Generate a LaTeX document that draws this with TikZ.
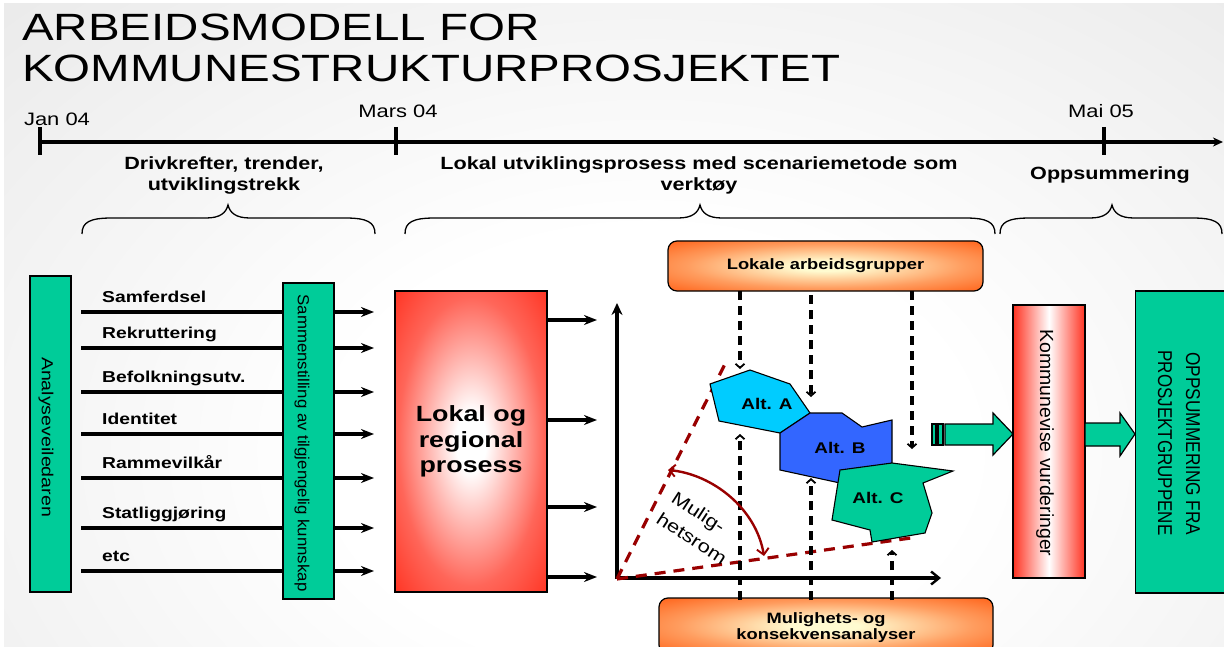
\documentclass[tikz,border=0pt]{standalone}
\usepackage{fontspec}
\setmainfont{Liberation Sans}[FakeStretch=1.22]
\newfontfamily\rotfont{Liberation Sans}
\newfontfamily\titlefont{Liberation Sans}[FakeStretch=1.25]
\usepackage{graphicx}
\usetikzlibrary{arrows.meta,calc}
\definecolor{bggray}{HTML}{DCDCDC}
\definecolor{tealc}{HTML}{00CC99}
\definecolor{boxred}{HTML}{FF3322}
\definecolor{orng}{HTML}{FF6A22}
\definecolor{pale}{HTML}{FFFBD0}
\definecolor{cyanA}{HTML}{00CCFF}
\definecolor{blueB}{HTML}{3366FF}
\definecolor{dred}{HTML}{990000}
\pgfdeclareradialshading{bgshade}{\pgfpoint{0bp}{0bp}}{color(0bp)=(white); color(10bp)=(white); color(42bp)=(bggray); color(50bp)=(bggray)}
\pgfdeclareradialshading{redshade}{\pgfpoint{0bp}{0bp}}{color(0bp)=(white); color(5bp)=(white); color(24bp)=(boxred!75!white); color(36bp)=(boxred); color(50bp)=(boxred)}
\pgfdeclareradialshading{orshade}{\pgfpoint{0bp}{0bp}}{color(0bp)=(pale); color(5bp)=(pale); color(22bp)=(orng!65!pale); color(34bp)=(orng); color(50bp)=(orng)}
\newcommand\rtxt[3]{\resizebox{#1pt}{\height}{\fontsize{#2}{#2}\rotfont #3}}
\newcommand\mybrace[3]{\draw[bracestyle] (#1,234) .. controls (#1,222) and (#1+8,218) .. (#1+30,218) -- (#2-22,218) .. controls (#2-8,218) and (#2-2,213) .. (#2,205) .. controls (#2+2,213) and (#2+8,218) .. (#2+22,218) -- (#3-30,218) .. controls (#3-8,218) and (#3,222) .. (#3,234);}
\begin{document}
\begin{tikzpicture}[x=1pt,y=-1pt,
  tealbox/.style={draw=black, line width=1.3pt, fill=tealc, inner sep=0pt},
  redbox/.style={draw=black, line width=1.3pt, shade, shading=redshade, inner sep=0pt},
  komred/.style={draw=black, line width=1.3pt, left color=boxred, right color=boxred, middle color=white, inner sep=0pt},
  orbox/.style={draw=black, line width=1.2pt, rounded corners=9pt, shade, shading=orshade, inner sep=0pt, font=\bfseries\fontsize{15}{16.5}\selectfont, align=center},
  harrow/.style={line width=3.3pt, -{Stealth[length=13pt,width=10pt]}},
  lab/.style={anchor=base west, font=\bfseries\fontsize{15.8}{18}\selectfont},
  darr/.style={line width=3.1pt, dash pattern=on 9pt off 6pt, -{Straight Barb[length=4pt,width=9pt,line width=1.8pt]}},
  reddash/.style={dred, line width=3.2pt, dash pattern=on 11pt off 8pt},
  poly/.style={draw=black, line width=1.1pt},
  alt/.style={font=\bfseries\fontsize{15.5}{18}\selectfont},
  sect/.style={anchor=base, font=\bfseries\fontsize{17.7}{21}\selectfont},
  tl/.style={anchor=base, font=\fontsize{18}{20}\selectfont},
  bracestyle/.style={line width=1.3pt},
  garrow/.style={draw=black, line width=1.2pt, fill=tealc},
  axis/.style={line width=3.8pt}
]
\useasboundingbox (0,0) rectangle (1224,647);
% background
\fill[bggray] (4,4) rectangle (1224,647);
\begin{scope}
\clip (4,4) rectangle (1224,647);
\shade[shading=bgshade] (-150,-100) rectangle (1450,1000);
\end{scope}

% title
\node[anchor=base west, inner sep=0pt, font=\titlefont\fontsize{38}{41}\selectfont] (t1) at (22,41) {ARBEIDSMODELL FOR};
\node[anchor=base west, inner sep=0pt, font=\titlefont\fontsize{38}{41}\selectfont] (t2) at (22,82) {KOMMUNESTRUKTURPROSJEKTET};

% timeline
\coordinate (tls) at (40,142);
\coordinate (tle) at (1223,142);
\draw[line width=3.6pt, -{Stealth[length=10pt,width=9pt]}] (tls) -- (tle);
\foreach \x/\nm in {40/ta,396/tb,1104/tc} {
  \coordinate (\nm1) at (\x,127);
  \coordinate (\nm2) at (\x,155);
  \draw[line width=3.6pt] (\nm1) -- (\nm2);
}
\node[tl] (jan) at (57,126) {Jan 04};
\node[tl] (mars) at (398,118) {Mars 04};
\node[tl] (mai) at (1101,118) {Mai 05};

% section labels
\node[sect] (s1a) at (224,170) {Drivkrefter, trender,};
\node[sect] (s1b) at (224,191) {utviklingstrekk};
\node[sect] (s2a) at (699,170) {Lokal utviklingsprosess med scenariemetode som};
\node[sect] (s2b) at (699,191) {verktøy};
\node[sect] (s3) at (1110,180) {Oppsummering};

% braces
\mybrace{82}{228}{375}
\mybrace{405}{700}{995}
\mybrace{1000}{1112}{1222}

% left box
\node[tealbox, minimum width=41pt, minimum height=316pt] (ana) at (50.5,434) {};
\node[rotate=-90, inner sep=0pt] (anaT) at (46,437) {\rtxt{160}{16}{Analyseveiledaren}};

% factor lines
\foreach \y/\t/\n in {312/Samferdsel/1,348/Rekruttering/2,392/Befolkningsutv./3,434/Identitet/4,478/Rammevilkår/5,528/Statliggjøring/6,571/etc/7} {
  \coordinate (fs\n) at (81,\y);
  \coordinate (fe\n) at (374,\y);
  \draw[harrow] (fs\n) -- (fe\n);
  \node[lab, inner sep=0pt] (fl\n) at (102,\y-10) {\t};
}

% Sammenstilling box
\node[tealbox, minimum width=51pt, minimum height=316pt] (sam) at (308.5,441) {};
\node[rotate=-90, inner sep=0pt] (samT) at (302,443) {\rtxt{297}{16}{Sammenstilling av tilgjengelig kunnskap}};

% Lokal og regional prosess
\node[redbox, minimum width=152pt, minimum height=301pt, align=center, font=\bfseries\fontsize{22}{25.5}\selectfont] (lok) at (471,441.5) {Lokal og\\regional\\prosess};
\foreach \y/\n in {320/1,420/2,507/3,577/4} {
  \coordinate (la\n) at (lok.east |- 0,\y);
  \coordinate (lb\n) at (597,\y);
  \draw[harrow] (la\n) -- (lb\n);
}

% axes
\coordinate (origin) at (617,579);
\coordinate (ytop) at (617,303);
\coordinate (xend) at (941,578);
\draw[axis, -{Stealth[length=12pt,width=11pt]}] (origin) -- (ytop);
\draw[axis, -{Straight Barb[length=8pt,width=13pt,line width=2.4pt]}] (617,578) -- (xend);

% red dashed lines
\coordinate (rd1) at (726,362);
\coordinate (rd2) at (918,537);
\draw[reddash] (origin) -- (rd1);
\draw[reddash] (origin) -- (rd2);

% boxes top and bottom
\node[orbox, minimum width=315pt, minimum height=50pt] (lag) at (825.5,266) {Lokale arbeidsgrupper};
\node[orbox, minimum width=334pt, minimum height=56pt, text depth=0pt] (mka) at (826,626) {Mulighets- og\\konsekvensanalyser};

% dashed arrows
\coordinate (d1s) at (740,291); \coordinate (d1e) at (740,369);
\coordinate (d2s) at (811,295); \coordinate (d2e) at (811,397);
\coordinate (d3s) at (912,291); \coordinate (d3e) at (912,449);
\draw[darr] (d1s) -- (d1e);
\draw[darr] (d2s) -- (d2e);
\draw[darr] (d3s) -- (d3e);
\coordinate (u1s) at (740,600); \coordinate (u1e) at (740,434);
\coordinate (u2s) at (811,600); \coordinate (u2e) at (811,478);
\coordinate (u3s) at (892,600); \coordinate (u3e) at (892,550);
\draw[darr] (u1s) -- (u1e);
\draw[darr] (u2s) -- (u2e);
\draw[darr] (u3s) -- (u3e);

% polygons
\draw[poly, fill=cyanA] (710,384) -- (750,370) -- (790,384) -- (810,413) -- (780,433) -- (719,421) -- cycle;
\draw[poly, fill=blueB] (810,413) -- (842,413) -- (862,427) -- (892,420) -- (892,463) -- (840,483) -- (780,470) -- (780,433) -- cycle;
\draw[poly, fill=tealc] (840,470) -- (892,463) -- (953,471) -- (923,483) -- (932,513) -- (925,533) -- (872,542) -- (870,530) -- (832,520) -- cycle;
\node[alt] (altA) at (767,404) {Alt. A};
\node[alt] (altB) at (840,448) {Alt. B};
\node[alt] (altC) at (878,498) {Alt. C};

% arc double arrow
\coordinate (arc1) at (668,470);
\coordinate (arc2) at (764,556);
\draw[dred, line width=2.4pt, {Straight Barb[length=6pt,width=12pt,line width=1.9pt]}-{Straight Barb[length=6pt,width=12pt,line width=1.9pt]}] (arc1) .. controls (712,474) and (756,508) .. (arc2);
\node[rotate=-33, anchor=base west, inner sep=0pt, font=\fontsize{18}{24}\selectfont] (mul1) at (670,501) {Mulig-};
\node[rotate=-33, anchor=base west, inner sep=0pt, font=\fontsize{18}{24}\selectfont] (mul2) at (655,522) {hetsrom};

% green arrow 1 with stripes
\draw[garrow] (932,424) rectangle (936,445);
\draw[garrow] (938,424) rectangle (943,445);
\draw[garrow] (945,424) -- (993,424) -- (993,413) -- (1013,434) -- (993,455) -- (993,445) -- (945,445) -- cycle;

% Kommunevise vurderinger
\node[komred, minimum width=72pt, minimum height=273pt] (kom) at (1049,441.5) {};
\node[rotate=-90, inner sep=0pt] (komT) at (1045,443) {\rtxt{227}{19}{Kommunevise vurderinger}};

% green arrow 2
\draw[garrow] (1085,423) -- (1120,423) -- (1120,413) -- (1135,434) -- (1120,456) -- (1120,446) -- (1085,446) -- cycle;

% Oppsummering box
\node[tealbox, minimum width=100pt, minimum height=302pt, anchor=west] (opp) at (1135,442) {};
\node[rotate=-90, inner sep=0pt] (oppT1) at (1193,444) {\rtxt{183}{20}{OPPSUMMERING FRA}};
\node[rotate=-90, inner sep=0pt] (oppT2) at (1165,443) {\rtxt{185}{20}{PROSJEKTGRUPPENE}};
\end{tikzpicture}
\end{document}
